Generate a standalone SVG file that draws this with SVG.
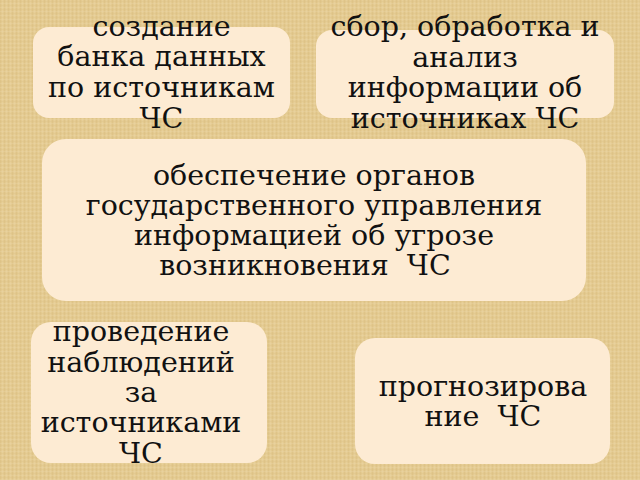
<svg xmlns="http://www.w3.org/2000/svg" width="640" height="480" viewBox="0 0 640 480">
<defs>
<pattern id="weave" width="4" height="4" patternUnits="userSpaceOnUse">
<rect width="4" height="4" fill="#e4ca90"/>
<rect x="0" y="0" width="1" height="4" fill="#d9bd7f" opacity="0.45"/>
<rect x="2" y="0" width="1" height="4" fill="#ecd6a3" opacity="0.45"/>
<rect x="0" y="1" width="4" height="1" fill="#dbc085" opacity="0.3"/>
<rect x="0" y="3" width="4" height="1" fill="#eed9a9" opacity="0.3"/>
</pattern>
<style>
.box{fill:#fdebd3;}
.t{font-family:"DejaVu Serif","Liberation Serif",serif;font-size:28.5px;fill:#111;text-anchor:middle;white-space:pre;}
</style>
</defs>
<rect width="640" height="480" fill="url(#weave)"/>
<g id="node1">
<rect class="box" x="33" y="27" width="257" height="91" rx="16"/>
<text class="t" x="161.5" y="36">создание</text>
<text class="t" x="161.5" y="66">банка данных</text>
<text class="t" x="161.5" y="97">по источникам</text>
<text class="t" x="161.5" y="128">ЧС</text>
</g>
<g id="node2">
<rect class="box" x="316" y="30" width="298" height="88" rx="16"/>
<text class="t" x="465" y="36">сбор, обработка и</text>
<text class="t" x="465" y="67">анализ</text>
<text class="t" x="465" y="97">информации об</text>
<text class="t" x="465" y="128">источниках ЧС</text>
</g>
<g id="node3">
<rect class="box" x="42" y="139" width="544" height="162" rx="24"/>
<text class="t" x="314" y="185">обеспечение органов</text>
<text class="t" x="314" y="215">государственного управления</text>
<text class="t" x="314" y="245">информацией об угрозе</text>
<text class="t" x="314" y="275">возникновения  ЧС  </text>
</g>
<g id="node4">
<rect class="box" x="31" y="322" width="236" height="141" rx="20"/>
<text class="t" x="141" y="341">проведение</text>
<text class="t" x="141" y="372">наблюдений</text>
<text class="t" x="141" y="402">за</text>
<text class="t" x="141" y="432">источниками</text>
<text class="t" x="141" y="463">ЧС</text>
</g>
<g id="node5">
<rect class="box" x="355" y="338" width="255" height="126" rx="20"/>
<text class="t" x="483" y="396">прогнозирова</text>
<text class="t" x="483" y="426">ние  ЧС</text>
</g>
<g id="connectors"></g>
</svg>
